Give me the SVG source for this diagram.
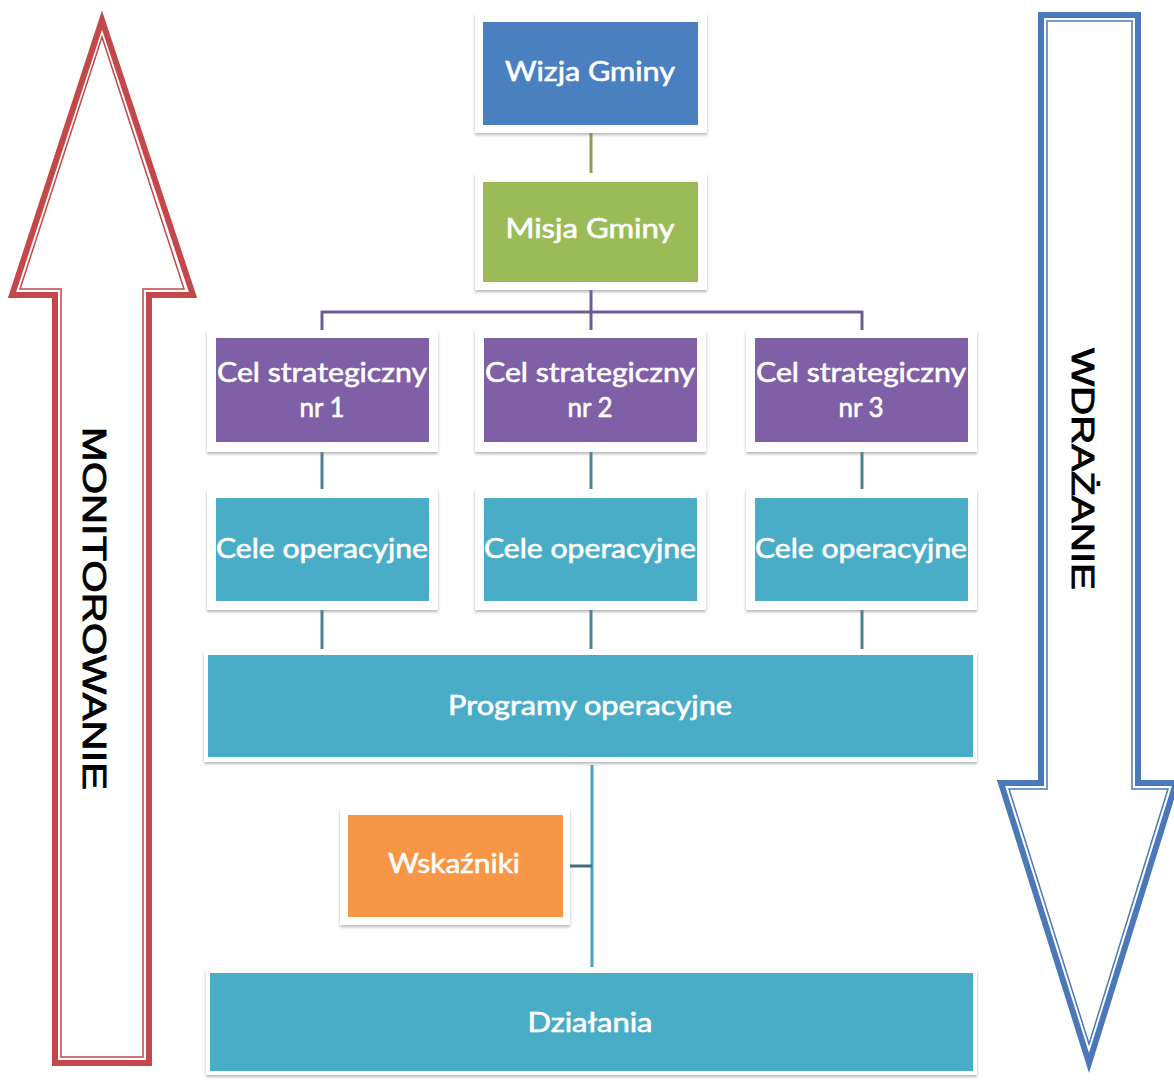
<svg xmlns="http://www.w3.org/2000/svg" width="1174" height="1081" viewBox="0 0 1174 1081">
<defs>
<filter id="sh" x="-10%" y="-10%" width="120%" height="130%">
<feDropShadow dx="0" dy="2" stdDeviation="1.5" flood-color="#7a7a7a" flood-opacity="0.55"/>
</filter>
</defs>
<style>
.frame{fill:#ffffff;filter:url(#sh)}
.blue{fill:#4a7fc0}
.green{fill:#9bbb59}
.purple{fill:#7f60a6}
.teal{fill:#4aadc8}
.orange{fill:#f79646}
.t{font-family:Lato,"Open Sans","Liberation Sans",sans-serif;font-size:26px;fill:#ffffff;stroke:#ffffff;stroke-width:0.6;text-anchor:middle}
.side{font-family:"Liberation Sans",Arial,sans-serif;fill:#000000;stroke:#000000;stroke-width:0.9}
.c{fill:none;stroke-width:3}
</style>
<rect width="1174" height="1081" fill="#ffffff"/>

<g id="arrow-monitorowanie">
<polygon points="102,20 12,295 55,295 55,1063 149,1063 149,295 193,295" fill="#ffffff" stroke="#c4474a" stroke-width="6" stroke-linejoin="miter"/>
<polygon points="102,37 20,289 61,289 61,1057 143,1057 143,289 184,289" fill="none" stroke="#c4474a" stroke-width="1.5"/>
<text class="side" transform="translate(83,427) rotate(90)" font-size="34" textLength="363" lengthAdjust="spacingAndGlyphs">MONITOROWANIE</text>
</g>

<g id="arrow-wdrazanie">
<polygon points="1041,15 1138,15 1138,783 1176,783 1089,1063 1001,783 1041,783" fill="#ffffff" stroke="#4a78b8" stroke-width="6" stroke-linejoin="miter"/>
<polygon points="1047,21 1132,21 1132,789 1168,789 1089,1044 1009,789 1047,789" fill="none" stroke="#4a78b8" stroke-width="1.5"/>
<text class="side" transform="translate(1072,348) rotate(90)" font-size="32" textLength="242" lengthAdjust="spacingAndGlyphs">WDRAŻANIE</text>
</g>

<g id="connectors">
<line class="c" x1="591" y1="133" x2="591" y2="173" stroke="#8a9d52"/>
<polyline class="c" points="322,331 322,312 862,312 862,331" stroke="#6f5a98"/>
<line class="c" x1="591" y1="290" x2="591" y2="331" stroke="#6f5a98"/>
<line class="c" x1="322" y1="452" x2="322" y2="489" stroke="#4b8593"/>
<line class="c" x1="591" y1="452" x2="591" y2="489" stroke="#4b8593"/>
<line class="c" x1="862" y1="452" x2="862" y2="489" stroke="#4b8593"/>
<line class="c" x1="322" y1="610" x2="322" y2="649" stroke="#4b8593"/>
<line class="c" x1="591" y1="610" x2="591" y2="649" stroke="#4b8593"/>
<line class="c" x1="862" y1="610" x2="862" y2="649" stroke="#4b8593"/>
<line class="c" x1="592" y1="765" x2="592" y2="967" stroke="#4a9fbf"/>
<line class="c" x1="570" y1="866" x2="592" y2="866" stroke="#3f6f7a"/>
</g>

<g id="wizja">
<rect class="frame" x="475" y="13" width="232" height="120"/>
<rect class="blue" x="483" y="22" width="215" height="103"/>
<text class="t" x="590" y="81" textLength="170" lengthAdjust="spacingAndGlyphs">Wizja Gminy</text>
</g>

<g id="misja">
<rect class="frame" x="475" y="173" width="232" height="117"/>
<rect class="green" x="483" y="182" width="215" height="100"/>
<text class="t" x="590" y="238" textLength="169" lengthAdjust="spacingAndGlyphs">Misja Gminy</text>
</g>

<g id="cel1">
<rect class="frame" x="207" y="330" width="231" height="122"/>
<rect class="purple" x="216" y="338" width="213" height="104"/>
<text class="t" x="322" y="382" textLength="210" lengthAdjust="spacingAndGlyphs">Cel strategiczny</text>
<text class="t" x="322" y="417">nr 1</text>
</g>

<g id="cel2">
<rect class="frame" x="475" y="330" width="231" height="122"/>
<rect class="purple" x="484" y="338" width="213" height="104"/>
<text class="t" x="590" y="382" textLength="210" lengthAdjust="spacingAndGlyphs">Cel strategiczny</text>
<text class="t" x="590" y="417">nr 2</text>
</g>

<g id="cel3">
<rect class="frame" x="746" y="330" width="231" height="122"/>
<rect class="purple" x="755" y="338" width="213" height="104"/>
<text class="t" x="861" y="382" textLength="210" lengthAdjust="spacingAndGlyphs">Cel strategiczny</text>
<text class="t" x="861" y="417">nr 3</text>
</g>

<g id="cele1">
<rect class="frame" x="207" y="489" width="231" height="121"/>
<rect class="teal" x="216" y="498" width="213" height="103"/>
<text class="t" x="322" y="558" textLength="212" lengthAdjust="spacingAndGlyphs">Cele operacyjne</text>
</g>

<g id="cele2">
<rect class="frame" x="475" y="489" width="231" height="121"/>
<rect class="teal" x="484" y="498" width="213" height="103"/>
<text class="t" x="590" y="558" textLength="212" lengthAdjust="spacingAndGlyphs">Cele operacyjne</text>
</g>

<g id="cele3">
<rect class="frame" x="746" y="489" width="231" height="121"/>
<rect class="teal" x="755" y="498" width="213" height="103"/>
<text class="t" x="861" y="558" textLength="212" lengthAdjust="spacingAndGlyphs">Cele operacyjne</text>
</g>

<g id="programy">
<rect class="frame" x="204" y="651" width="773" height="111"/>
<rect class="teal" x="208" y="655" width="765" height="102"/>
<text class="t" x="590" y="715" textLength="284" lengthAdjust="spacingAndGlyphs">Programy operacyjne</text>
</g>

<g id="wskazniki">
<rect class="frame" x="340" y="808" width="230" height="117"/>
<rect class="orange" x="348" y="815" width="215" height="102"/>
<text class="t" x="454" y="873" textLength="132" lengthAdjust="spacingAndGlyphs">Wskaźniki</text>
</g>

<g id="dzialania">
<rect class="frame" x="206" y="969" width="771" height="106"/>
<rect class="teal" x="210" y="973" width="763" height="98"/>
<text class="t" x="590" y="1032" textLength="125" lengthAdjust="spacingAndGlyphs">Działania</text>
</g>
</svg>
